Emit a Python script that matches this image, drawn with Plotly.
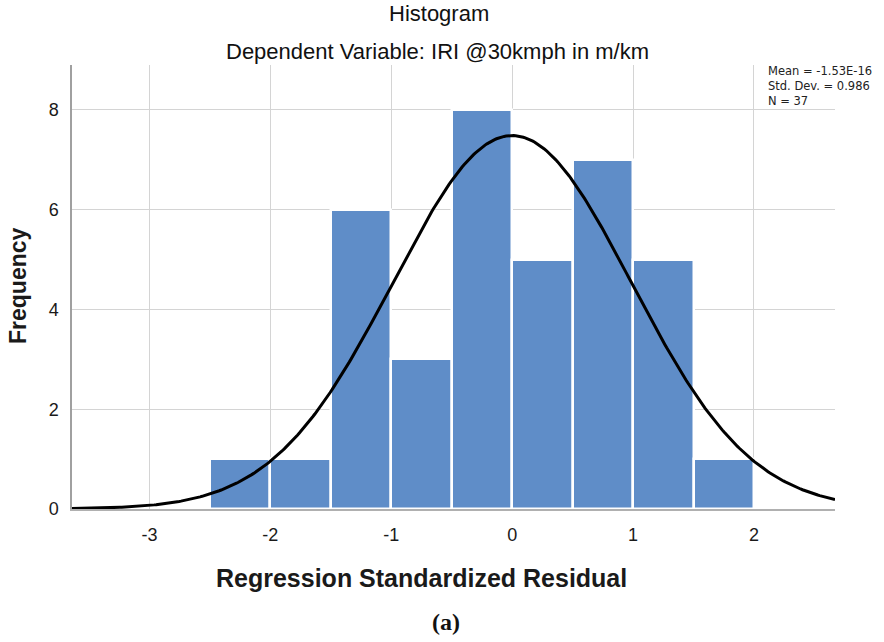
import numpy as np
import plotly.graph_objects as go

# Data
bin_left = [-2.5, -2.0, -1.5, -1.0, -0.5, 0.0, 0.5, 1.0, 1.5]
counts = [1, 1, 6, 3, 8, 5, 7, 5, 1]
bin_width = 0.5
mean_val = -1.53e-16
std_val = 0.986
n_val = 37
x_ticks = [-3, -2, -1, 0, 1, 2]
y_ticks = [0, 2, 4, 6, 8]
stats_lines = ["Mean = -1.53E-16", f"Std. Dev. = {std_val}", f"N = {n_val}"]

centers = [b + bin_width / 2 for b in bin_left]

x_min, x_max = -3.64, 2.67
xs = np.linspace(x_min, x_max, 400)
ys = n_val * bin_width * np.exp(-0.5 * ((xs - mean_val) / std_val) ** 2) / (std_val * np.sqrt(2 * np.pi))

W, H = 884, 642
L, R, T, B = 72, 49, 65, 133
PW, PH = W - L - R, H - T - B

fig = go.Figure()
fig.add_trace(go.Bar(
    x=centers, y=counts, width=bin_width,
    marker=dict(color="#5f8dc8", line=dict(color="white", width=2.5)),
    showlegend=False, hoverinfo="skip"))
fig.add_trace(go.Scatter(
    x=xs, y=ys, mode="lines", line=dict(color="black", width=3),
    showlegend=False, hoverinfo="skip"))

font = "Liberation Sans, Arial, sans-serif"
fig.update_layout(
    width=W, height=H,
    margin=dict(l=L, r=R, t=T, b=B),
    paper_bgcolor="white", plot_bgcolor="white",
    font=dict(family=font, color="#1a1a1a"),
    bargap=0,
    xaxis=dict(range=[x_min, x_max], tickvals=x_ticks, ticktext=[str(v) for v in x_ticks],
               showgrid=True, gridcolor="#d4d4d4", gridwidth=1,
               zeroline=False, showline=True, linecolor="#b0b0b0", linewidth=1.5,
               ticks="", tickfont=dict(size=18, color="#1a1a1a"), ticklabelstandoff=9),
    yaxis=dict(range=[0, 8.9], tickvals=y_ticks, ticktext=[str(v) for v in y_ticks],
               showgrid=True, gridcolor="#d4d4d4", gridwidth=1,
               zeroline=False, showline=True, linecolor="#a0a0a0", linewidth=1.5,
               ticks="", tickfont=dict(size=18, color="#1a1a1a"), ticklabelstandoff=8),
)


def pos(px, py):
    """full-figure pixel position -> paper coords"""
    return (px - L) / PW, 1 - (py - T) / PH


def add_text(text, px, py, size, yanchor="middle", **kw):
    x, y = pos(px, py)
    fig.add_annotation(text=text, x=x, y=y, xref="paper", yref="paper",
                       showarrow=False, xanchor=kw.pop("xanchor", "center"),
                       yanchor=yanchor,
                       font=dict(size=size, color=kw.pop("color", "#1a1a1a"),
                                 family=kw.pop("family", font)), **kw)


add_text("Histogram", 439, 14, 22, color="#111")
add_text("Dependent Variable: IRI @30kmph in m/km", 437, 52, 22, color="#111")
add_text("<b>Regression Standardized Residual</b>", 421, 578, 25, color="#1a1a1a")
add_text("<b>Frequency</b>", 18, 286, 23, textangle=-90)
add_text("<b>(a)</b>", 446, 622, 24, color="#111",
         family="Liberation Serif, Times New Roman, serif")
add_text("<br>".join(stats_lines), 766, 62, 11.5, yanchor="top", xanchor="left",
         align="left", color="#222", family="DejaVu Sans, Liberation Sans, sans-serif")

fig.write_html("out.html", post_script="document.body.style.margin='0px';",
               config={"displayModeBar": False})
